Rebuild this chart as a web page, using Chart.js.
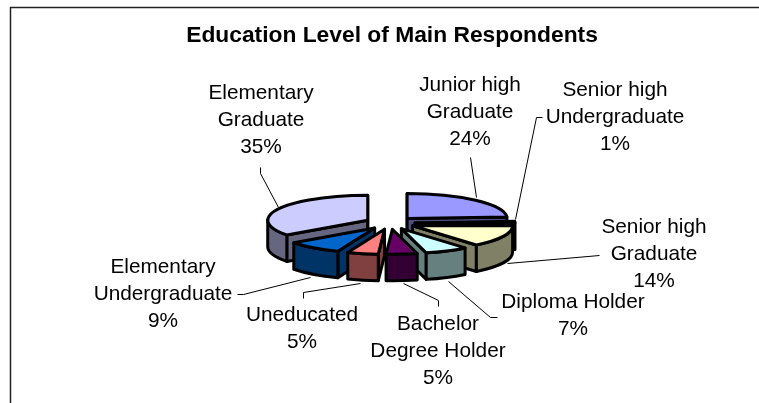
<!DOCTYPE html>
<html>
<head>
<meta charset="utf-8">
<title>Education Level of Main Respondents</title>
<style>
html,body{margin:0;padding:0;background:#fff;overflow:hidden}
#box{position:absolute;left:0;top:0;width:759px;height:403px}
</style>
<script src="https://cdn.jsdelivr.net/npm/chart.js@4"></script>
</head>
<body>
<div id="box"><canvas id="c" width="759" height="403"></canvas></div>
<script>
const chartTitle = 'Education Level of Main Respondents';
const categories = [
  ['Junior high','Graduate'],
  ['Senior high','Undergraduate'],
  ['Senior high','Graduate'],
  ['Diploma Holder'],
  ['Bachelor','Degree Holder'],
  ['Uneducated'],
  ['Elementary','Undergraduate'],
  ['Elementary','Graduate']
];
const shares = [24, 1, 14, 7, 5, 5, 9, 35];
const topColors = ['#9999FF','#993366','#FFFFCC','#CCFFFF','#660066','#FF8080','#0066CC','#CCCCFF'];

// layout of the text and leader lines, one entry per category
const labelCenters = [[470,85],[615,90],[654,227],[573,302],[438,324],[302,315],[163,267],[261,93]];
const labelLineStep = 27;
const leaders = [
  [[470,157],[476,197]],
  [[542,117],[536,117],[515,219]],
  [[599,255],[507,263]],
  [[497,317],[490,317],[448,281]],
  [[438,306],[438,300],[403,283]],
  [[303,298],[303,292],[360,283]],
  [[237,294],[243,294],[310,277]],
  [[260,167],[260,173],[278,207]]
];
const view = {dx:-2, dy:0, tilt:0.25, explode:25, depth:26.5, stroke:3};
const FONT = '"Liberation Sans", Arial, sans-serif';
const LABEL_SIZE = 20.8;

function halfTone(hex){
  const n = parseInt(hex.slice(1),16);
  const f = v => Math.round(v/2);
  return `rgb(${f(n>>16&255)},${f(n>>8&255)},${f(n&255)})`;
}

const pie3d = {
  id:'pie3d',
  beforeDatasetDraw(chart, args){
    const ctx = chart.ctx;
    const arcs = chart.getDatasetMeta(args.index).data;

    // leader lines sit underneath the pie
    ctx.save();
    ctx.strokeStyle = '#000'; ctx.lineWidth = 1;
    leaders.forEach(pts => {
      ctx.beginPath();
      pts.forEach((p,i) => i ? ctx.lineTo(p[0]+.5,p[1]+.5) : ctx.moveTo(p[0]+.5,p[1]+.5));
      ctx.stroke();
    });
    ctx.restore();

    const order = arcs.map((a,i)=>i).sort((i,j)=>{
      const m = k => Math.sin((arcs[k].startAngle+arcs[k].endAngle)/2);
      return m(i)-m(j);
    });

    ctx.save();
    ctx.lineWidth = view.stroke; ctx.lineJoin = 'round'; ctx.strokeStyle = '#000';
    order.forEach(i => {
      const a = arcs[i];
      const mid = (a.startAngle+a.endAngle)/2;
      const cx = a.x + view.dx + Math.cos(mid)*view.explode;
      const cy = a.y + view.dy + Math.sin(mid)*view.explode*view.tilt;
      const rx = a.outerRadius, ry = a.outerRadius*view.tilt, d = view.depth;
      const side = halfTone(topColors[i]);
      const px = t => cx + Math.cos(t)*rx, py = t => cy + Math.sin(t)*ry;
      const paint = (fill) => { ctx.fillStyle = fill; ctx.fill(); ctx.stroke(); };

      // cut faces turned towards the viewer
      [[a.startAngle, -Math.cos(a.startAngle)],[a.endAngle, Math.cos(a.endAngle)]].forEach(([t,facing]) => {
        if (facing < -0.01) return;
        ctx.beginPath();
        ctx.moveTo(cx,cy); ctx.lineTo(px(t),py(t));
        ctx.lineTo(px(t),py(t)+d); ctx.lineTo(cx,cy+d); ctx.closePath();
        paint(side);
      });

      // outer wall: only the part of the rim nearest the viewer
      const from = Math.max(a.startAngle,0), to = Math.min(a.endAngle,Math.PI);
      if (to > from) {
        ctx.beginPath();
        ctx.ellipse(cx,cy,rx,ry,0,from,to,false);
        ctx.ellipse(cx,cy+d,rx,ry,0,to,from,true);
        ctx.closePath();
        paint(side);
      }

      // top face
      ctx.beginPath();
      ctx.moveTo(cx,cy);
      ctx.ellipse(cx,cy,rx,ry,0,a.startAngle,a.endAngle,false);
      ctx.closePath();
      paint(topColors[i]);
    });
    ctx.restore();

    // category and percentage labels
    ctx.save();
    ctx.fillStyle = '#000';
    ctx.font = `${LABEL_SIZE}px ${FONT}`;
    ctx.textAlign = 'center'; ctx.textBaseline = 'middle';
    categories.forEach((lines,i) => {
      const [x,y] = labelCenters[i];
      [...lines, shares[i]+'%'].forEach((t,k) => ctx.fillText(t,x,y+k*labelLineStep));
    });
    ctx.restore();
    return false;
  },
  afterDraw(chart){
    const ctx = chart.ctx;
    ctx.save();
    ctx.strokeStyle = '#222'; ctx.lineWidth = 1.5;
    ctx.beginPath();
    ctx.moveTo(10.5,403); ctx.lineTo(10.5,7.5); ctx.lineTo(759,7.5);
    ctx.stroke();
    ctx.restore();
  }
};

new Chart(document.getElementById('c'), {
  type:'pie',
  data:{
    labels: categories.map(l => l.join(' ')),
    datasets:[{data:shares, backgroundColor:topColors, borderColor:'#000', borderWidth:0}]
  },
  options:{
    responsive:false,
    animation:false,
    rotation:0,
    radius:100,
    layout:{padding:{left:25,right:0,top:0,bottom:6.5}},
    plugins:{
      legend:{display:false},
      tooltip:{enabled:false},
      title:{
        display:true,
        text:chartTitle,
        color:'#000',
        font:{family:FONT,size:22.8,weight:'bold',lineHeight:1.2},
        padding:{top:22.3,bottom:0}
      }
    }
  },
  plugins:[pie3d]
});
</script>
</body>
</html>
